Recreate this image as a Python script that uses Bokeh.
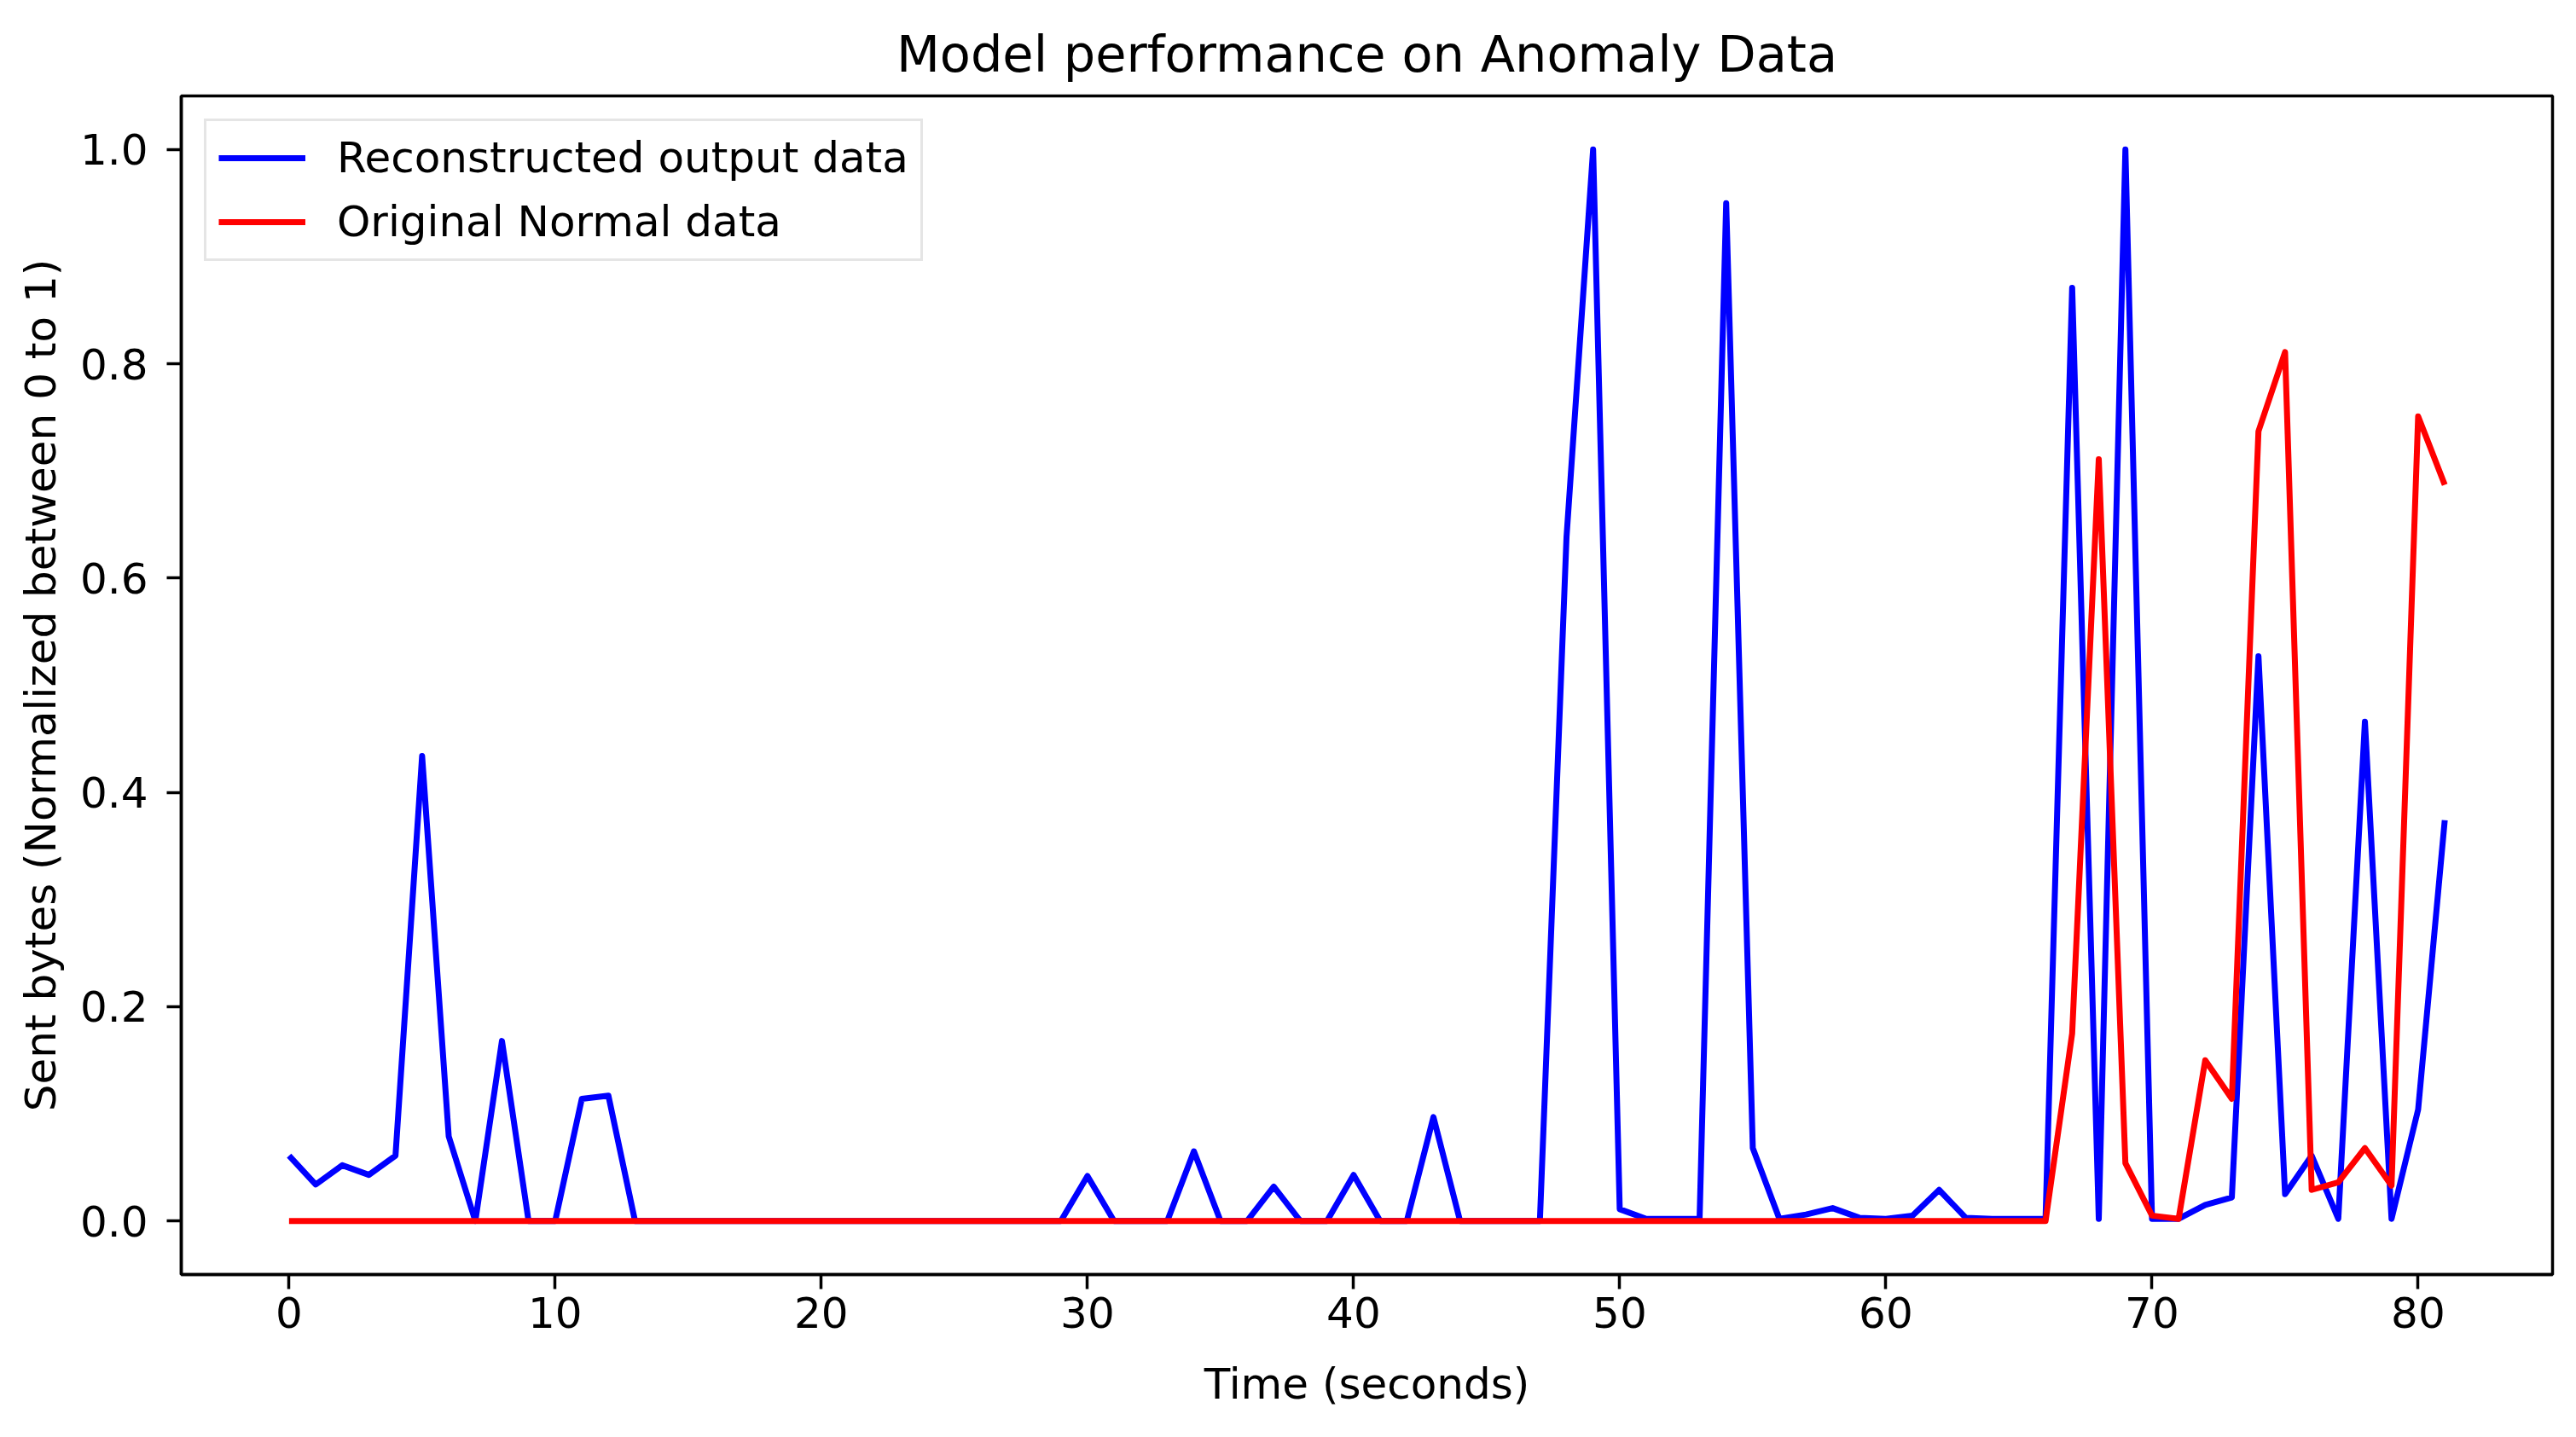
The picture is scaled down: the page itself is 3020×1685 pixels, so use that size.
from bokeh.plotting import figure
from bokeh.models import FixedTicker, NumeralTickFormatter
from bokeh.embed import file_html
from bokeh.resources import INLINE

# ---- data ----
time_s = list(range(82))
reconstructed = [
    0.061, 0.034, 0.052, 0.043, 0.061, 0.434, 0.079, 0.0, 0.168, 0.0,
    0.0, 0.114, 0.117, 0.0, 0.0, 0.0, 0.0, 0.0, 0.0, 0.0,
    0.0, 0.0, 0.0, 0.0, 0.0, 0.0, 0.0, 0.0, 0.0, 0.0,
    0.042, 0.0, 0.0, 0.0, 0.065, 0.0, 0.0, 0.032, 0.0, 0.0,
    0.043, 0.0, 0.0, 0.097, 0.0, 0.0, 0.0, 0.0, 0.638, 1.0,
    0.011, 0.002, 0.002, 0.002, 0.95, 0.068, 0.002, 0.006, 0.012, 0.003,
    0.002, 0.005, 0.029, 0.003, 0.002, 0.002, 0.002, 0.871, 0.002, 1.0,
    0.002, 0.002, 0.015, 0.022, 0.527, 0.025, 0.061, 0.002, 0.466, 0.002,
    0.104, 0.374,
]
original = [0.0] * 67 + [
    0.175, 0.711, 0.054, 0.005, 0.002, 0.150, 0.114, 0.737, 0.811, 0.029,
    0.036, 0.068, 0.033, 0.751, 0.687,
]
x_ticks = [0, 10, 20, 30, 40, 50, 60, 70, 80]
y_ticks = [0.0, 0.2, 0.4, 0.6, 0.8, 1.0]

FONT = "DejaVu Sans"

p = figure(
    frame_width=2780, frame_height=1382,
    min_border_left=212, min_border_right=12, min_border_top=112, min_border_bottom=170,
    x_range=(-4.05, 85.05), y_range=(-0.05, 1.05),
    output_backend="svg", toolbar_location=None,
    title="Model performance on Anomaly Data",
)
p.background_fill_color = "white"
p.border_fill_color = "white"
p.outline_line_color = "black"
p.outline_line_width = 3.5
p.xgrid.visible = False
p.ygrid.visible = False

p.title.text_font = FONT
p.title.text_font_size = "59px"
p.title.text_font_style = "normal"
p.title.text_color = "black"
p.title.align = "center"
p.title.standoff = 30

for ax in (p.xaxis[0], p.yaxis[0]):
    ax.axis_line_color = "black"
    ax.axis_line_width = 3.5
    ax.major_tick_line_color = "black"
    ax.major_tick_line_width = 3.5
    ax.major_tick_out = 17
    ax.major_tick_in = 0
    ax.minor_tick_line_color = None
    ax.major_label_text_font = FONT
    ax.major_label_text_font_size = "50px"
    ax.major_label_text_color = "black"
    ax.axis_label_text_font = FONT
    ax.axis_label_text_font_size = "50px"
    ax.axis_label_text_font_style = "normal"
    ax.axis_label_text_color = "black"

p.xaxis.ticker = FixedTicker(ticks=x_ticks)
p.yaxis.ticker = FixedTicker(ticks=y_ticks)
p.yaxis.formatter = NumeralTickFormatter(format="0.0")
p.xaxis.axis_label = "Time (seconds)"
p.yaxis.axis_label = "Sent bytes (Normalized between 0 to 1)"
p.xaxis.major_label_standoff = 9
p.yaxis.major_label_standoff = 22
p.xaxis.axis_label_standoff = 34
p.yaxis.axis_label_standoff = 14

p.line(time_s, reconstructed, line_color="#0000ff", line_width=7, line_join="round",
       legend_label="Reconstructed output data")
p.line(time_s, original, line_color="#ff0000", line_width=7, line_join="round",
       legend_label="Original Normal data")

lg = p.legend[0]
lg.location = "top_left"
lg.margin = 27
lg.padding = 14
lg.spacing = 17
lg.glyph_width = 102
lg.glyph_height = 58
lg.label_height = 58
lg.label_standoff = 37
lg.label_text_font = FONT
lg.label_text_font_size = "50px"
lg.label_text_color = "black"
lg.border_line_color = "#cccccc"
lg.border_line_width = 3
lg.background_fill_color = "white"
lg.background_fill_alpha = 0.8

open("out.html", "w").write(file_html(p, INLINE))
